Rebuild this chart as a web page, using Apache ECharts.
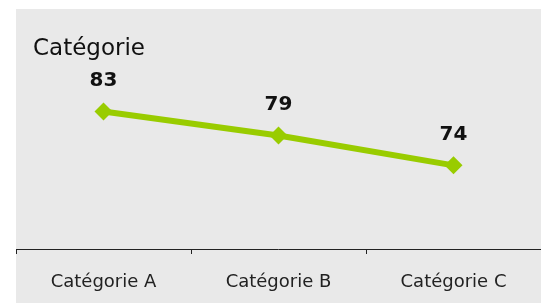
<!DOCTYPE html>
<html>
<head>
<meta charset="utf-8">
<script src="https://cdn.jsdelivr.net/npm/echarts@6/dist/echarts.min.js"></script>
<style>
  html, body { margin: 0; padding: 0; background: #fff; }
  #chart { position: absolute; left: 16px; top: 9px; width: 525px; height: 294px; background: #e9e9e9; }
</style>
</head>
<body>
<div id="chart"></div>
<script>
// données
const categories = ['Catégorie A', 'Catégorie B', 'Catégorie C']
const values = [83, 79, 74]
const seriesName = 'Catégorie'

const chart = echarts.init(document.getElementById('chart'))

const option = {
  animation: false,
  textStyle: { fontFamily: 'DejaVu Sans' },
  title: {
    text: seriesName,
    left: 12,
    top: 24,
    textStyle: { fontSize: 23, fontWeight: 'normal', color: '#111', fontFamily: 'DejaVu Sans' }
  },
  grid: { left: 0, right: 0, top: 1, bottom: 54 },
  xAxis: {
    type: 'category',
    data: categories,
    boundaryGap: true,
    axisLine: { lineStyle: { color: '#222', width: 1 } },
    axisTick: { show: true, length: 5, lineStyle: { color: '#222' } },
    axisLabel: { color: '#222', fontSize: 18, margin: 24 }
  },
  yAxis: {
    type: 'value',
    min: 60,
    max: 100,
    show: false,
    splitLine: { show: false }
  },
  series: [
    {
      name: seriesName,
      type: 'line',
      data: values,
      symbol: 'diamond',
      symbolSize: 18,
      lineStyle: { color: '#99cc00', width: 6 },
      itemStyle: { color: '#99cc00' },
      label: {
        show: true,
        position: 'top',
        distance: 12,
        fontSize: 20,
        fontWeight: 'bold',
        color: '#111'
      }
    }
  ]
}

chart.setOption(option)
</script>
</body>
</html>
